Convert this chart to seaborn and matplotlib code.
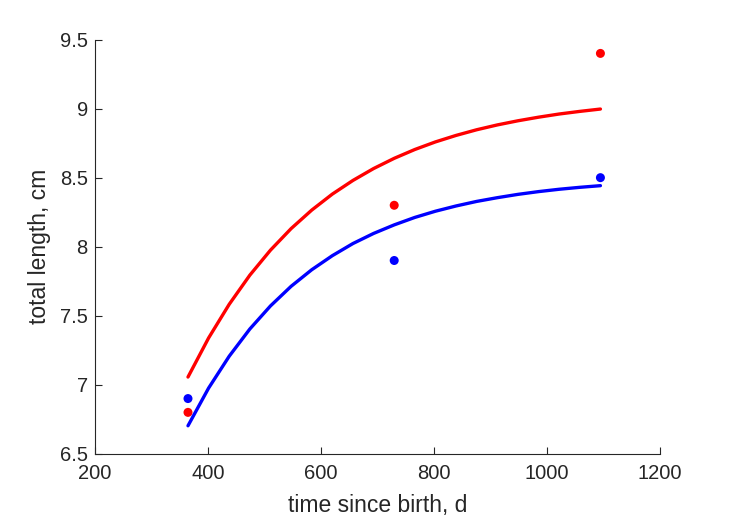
import numpy as np
import pandas as pd
import seaborn as sns
import matplotlib.pyplot as plt

# observed points
t_obs = [365, 730, 1095]
red_obs = [6.8, 8.3, 9.4]
blue_obs = [6.9, 7.9, 8.5]

# fitted curves
t_fit = [365, 401.5, 438, 474.5, 511, 547.5, 584, 620.5, 657, 693.5, 730,
         766.5, 803, 839.5, 876, 912.5, 949, 985.5, 1022, 1058.5, 1095]
red_fit = [7.056, 7.339, 7.583, 7.794, 7.975, 8.131, 8.265, 8.381, 8.480, 8.566, 8.640,
           8.704, 8.759, 8.806, 8.847, 8.882, 8.912, 8.938, 8.961, 8.980, 8.997]
blue_fit = [6.703, 6.976, 7.207, 7.404, 7.571, 7.713, 7.833, 7.935, 8.023, 8.096, 8.158,
            8.212, 8.257, 8.295, 8.328, 8.355, 8.379, 8.399, 8.416, 8.430, 8.442]

sns.set_style('ticks')
plt.rcParams['font.family'] = ['Liberation Sans', 'DejaVu Sans']
dark = '#262626'

fig = plt.figure(figsize=(7.29, 5.21), dpi=100)
ax = fig.add_axes([0.130, 0.129, 0.775, 0.795])

sns.lineplot(x=t_fit, y=red_fit, color='red', linewidth=2.4, ax=ax)
sns.lineplot(x=t_fit, y=blue_fit, color='blue', linewidth=2.4, ax=ax)
sns.scatterplot(x=t_obs, y=red_obs, color='red', s=42, edgecolor='none', ax=ax)
sns.scatterplot(x=t_obs, y=blue_obs, color='blue', s=42, edgecolor='none', ax=ax)

ax.set_xlim(200, 1200)
ax.set_ylim(6.5, 9.5)
ax.set_xticks([200, 400, 600, 800, 1000, 1200])
ax.set_yticks([6.5, 7, 7.5, 8, 8.5, 9, 9.5])
ax.set_yticklabels(['6.5', '7', '7.5', '8', '8.5', '9', '9.5'])
ax.set_xlabel('time since birth, d', fontsize=16.5, color=dark, labelpad=8)
ax.set_ylabel('total length, cm', fontsize=16.5, color=dark, labelpad=6)
ax.tick_params(direction='in', length=5, width=0.8, labelsize=14.5, colors=dark)
ax.tick_params(axis='x', pad=7)
ax.tick_params(axis='y', pad=5)
sns.despine(ax=ax)
for s in ['left', 'bottom']:
    ax.spines[s].set_color(dark)
    ax.spines[s].set_linewidth(0.8)

fig.savefig('out.png', dpi=100)
